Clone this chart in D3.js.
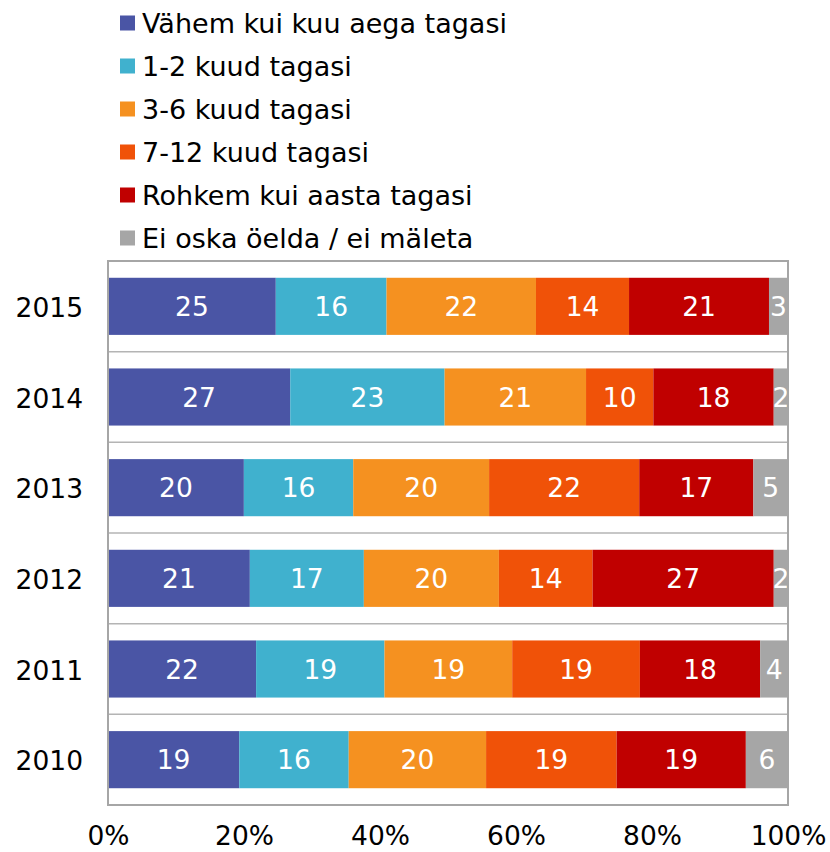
<!DOCTYPE html>
<html>
<meta charset="utf-8">
<script src="https://d3js.org/d3.v7.min.js"></script>
<style>
body{ margin:0; background:white; }
.chartSvg text{ font-family: Verdana, "DejaVu Sans", sans-serif; }
</style>
<body>
<div id="chartDiv"></div>
<script>
// categories, top to bottom
var years = ["2015","2014","2013","2012","2011","2010"];

var seriesNames = ["Vähem kui kuu aega tagasi","1-2 kuud tagasi","3-6 kuud tagasi",
                   "7-12 kuud tagasi","Rohkem kui aasta tagasi","Ei oska öelda / ei mäleta"];
var seriesCols = ["#4A55A5","#40B1CE","#F59120","#F05208","#C00000","#A6A6A6"];

// percent per year, same order as years
var vahem   = [24.7, 26.8, 20.0, 20.9, 21.8, 19.3];
var kuud12  = [16.3, 22.7, 16.1, 16.8, 18.9, 16.1];
var kuud36  = [22.0, 20.8, 20.0, 19.9, 18.8, 20.2];
var kuud712 = [13.7,  9.9, 22.1, 13.8, 18.8, 19.2];
var rohkem  = [20.6, 17.7, 16.8, 26.7, 17.7, 19.0];
var eiOska  = [ 2.8,  2.1,  5.1,  2.1,  4.1,  6.2];

var xTicks = [0, 0.2, 0.4, 0.6, 0.8, 1];

var seriesVals = [vahem, kuud12, kuud36, kuud712, rohkem, eiOska];
var keys = d3.range(seriesNames.length);

var tableData = years.map(function(y, i){
  var row = {year: y};
  keys.forEach(function(k){ row[k] = seriesVals[k][i]; });
  return row;
});

var width = 830, height = 852;
var plotLeft = 108, plotRight = 788, plotTop = 261, plotBottom = 805;
var fontSize = 26.5,
    legendFont = 27;

var svg = d3.select("#chartDiv").append("svg")
  .attr("width", width).attr("height", height)
  .attr("class", "chartSvg");

var x = d3.scaleLinear().domain([0, 1]).range([plotLeft, plotRight]);
var y = d3.scaleBand().domain(years).range([plotTop, plotBottom])
  .paddingInner(0.37).paddingOuter(0.185);

var stacked = d3.stack().keys(keys).offset(d3.stackOffsetExpand)(tableData);

// legend
var legendG = svg.append("g");
var legendItems = legendG.selectAll(".legendItem").data(seriesNames)
  .enter().append("g")
  .attr("class", "legendItem")
  .attr("transform", function(d, i){ return "translate(120," + (23 + i*43) + ")"; });
legendItems.append("rect")
  .attr("x", 0).attr("y", -7.5).attr("width", 15).attr("height", 15)
  .style("fill", function(d, i){ return seriesCols[i]; });
legendItems.append("text")
  .attr("x", 22).attr("dy", "0.36em")
  .style("font-size", legendFont + "px")
  .style("fill", "black")
  .text(function(d){ return d; });

// row separators
var step = y.step();
svg.selectAll(".sep").data(d3.range(1, years.length))
  .enter().append("line")
  .attr("class", "sep")
  .attr("x1", plotLeft).attr("x2", plotRight)
  .attr("y1", function(d){ return plotTop + d*step; })
  .attr("y2", function(d){ return plotTop + d*step; })
  .style("stroke", "#B4B4B4").style("stroke-width", 1.5);

// bars
var layers = svg.selectAll(".layer").data(stacked)
  .enter().append("g")
  .attr("class", "layer")
  .style("fill", function(d){ return seriesCols[d.key]; });

layers.selectAll("rect").data(function(d){ return d; })
  .enter().append("rect")
  .attr("x", function(d){ return x(d[0]); })
  .attr("width", function(d){ return x(d[1]) - x(d[0]); })
  .attr("y", function(d){ return y(d.data.year); })
  .attr("height", y.bandwidth());

layers.selectAll(".valLabel").data(function(d){
    return d.map(function(p){ return {p: p, key: d.key}; });
  })
  .enter().append("text")
  .attr("class", "valLabel")
  .attr("x", function(d){ return (x(d.p[0]) + x(d.p[1]))/2; })
  .attr("y", function(d){ return y(d.p.data.year) + y.bandwidth()/2; })
  .attr("dy", "0.36em")
  .attr("text-anchor", "middle")
  .style("font-size", fontSize + "px")
  .style("fill", "white")
  .text(function(d){ return Math.round(d.p.data[d.key]); });

// plot frame
svg.append("rect")
  .attr("x", plotLeft).attr("y", plotTop)
  .attr("width", plotRight - plotLeft).attr("height", plotBottom - plotTop)
  .style("fill", "none").style("stroke", "#A6A6A6").style("stroke-width", 2);

// year labels
svg.selectAll(".yearLabel").data(years)
  .enter().append("text")
  .attr("class", "yearLabel")
  .attr("x", 83)
  .attr("y", function(d){ return y(d) + y.bandwidth()/2 + 1; })
  .attr("dy", "0.36em")
  .attr("text-anchor", "end")
  .style("font-size", fontSize + "px")
  .style("fill", "black")
  .text(function(d){ return d; });

// x axis
var xAxis = d3.axisBottom(x).tickValues(xTicks).tickSize(0)
  .tickFormat(d3.format(".0%"));
var axisG = svg.append("g").attr("transform", "translate(0," + plotBottom + ")").call(xAxis);
axisG.select(".domain").remove();
axisG.selectAll("text")
  .attr("y", 40).attr("dy", 0)
  .style("font-size", fontSize + "px")
  .style("font-family", "Verdana, 'DejaVu Sans', sans-serif")
  .style("fill", "black");
</script>
</body>
</html>
